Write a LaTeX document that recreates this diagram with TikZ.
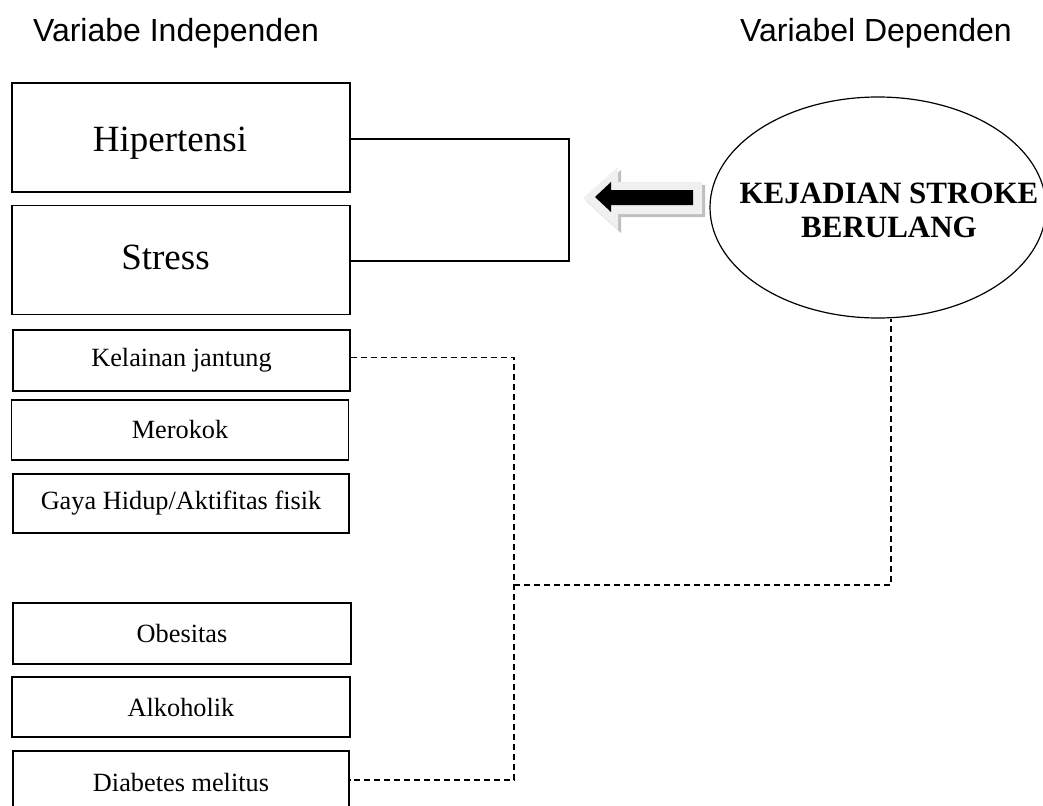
\documentclass[tikz,border=0pt]{standalone}
\usepackage{fontspec}
\setmainfont{Liberation Serif}
\setsansfont{Liberation Sans}
\usetikzlibrary{shapes.geometric}
\begin{document}
\begin{tikzpicture}[x=1pt, y=-1pt, line width=1.2pt,
    bigbox/.style={draw, minimum width=338pt, minimum height=109pt},
    bigtext/.style={inner sep=0pt, text height=24.5pt, text depth=0pt, font=\fontsize{37}{44}\selectfont},
    smallbox/.style={draw, minimum width=337pt, minimum height=60pt, font=\fontsize{26.3}{31}\selectfont},
    heading/.style={inner sep=0pt, text height=23pt, text depth=0pt, font=\sffamily\fontsize{32}{38}\selectfont},
    dashline/.style={dash pattern=on 6pt off 4pt, line width=1.3pt}]
    \useasboundingbox (0,0) rectangle (1043,805);

    \node [heading] (indep) at (176,30) {Variabe Independen};
    \node [heading] (dep) at (876,30) {Variabel Dependen};

    \node [bigbox] (hip) at (181,137.5) {};
    \node [bigtext] (hiptxt) at (170,139.5) {Hipertensi};
    \node [bigbox] (str) at (181,260) {};
    \node [bigtext] (strtxt) at (165.5,257.5) {Stress};

    \node [smallbox, minimum height=61pt] (kel) at (181.5,360.5) {Kelainan jantung};
    \node [smallbox] (mer) at (180,430) {Merokok};
    \node [smallbox, minimum width=336pt, minimum height=59pt] (gay) at (181,503.5) {Gaya Hidup/Aktifitas fisik};
    \node [smallbox, minimum width=338pt, minimum height=61pt] (obe) at (182,633.5) {Obesitas};
    \node [smallbox, minimum width=338pt] (alk) at (181,707) {Alkoholik};
    \node [smallbox, minimum width=336pt, minimum height=62pt] (dia) at (181,782) {Diabetes melitus};

    \node [draw, ellipse, minimum width=336pt, minimum height=221pt, inner sep=0pt] (ell) at (878,207.5) {};
    \node [align=center, font=\bfseries\fontsize{31}{34}\selectfont] (evt) at (889,210) {KEJADIAN STROKE\\BERULANG};

    \coordinate (brk) at (569,0);
    \draw [line width=1.5pt] ([yshift=-1.5pt]hip.east) -- ([yshift=-1.5pt]hip.east -| brk) -- ([yshift=-1pt]str.east -| brk) -- ([yshift=-1pt]str.east);

    \coordinate (dv) at (514,0);
    \coordinate (jn) at (514,585);
    \coordinate (jr) at (891,585);
    \draw [dashline] ([yshift=3pt]kel.east) -- ([yshift=3pt]kel.east -| dv) -- ([yshift=2pt]dia.east -| dv) -- ([yshift=2pt]dia.east);
    \draw [dashline] (jn) -- (jr) -- (jr |- ell.south);

    \fill [gray!50, shift={(3,3)}] (583,198) -- (618,167) -- (618,182) -- (702,182) -- (702,214) -- (618,214) -- (618,230) -- cycle;
    \fill [gray!12] (583,198) -- (618,167) -- (618,182) -- (702,182) -- (702,214) -- (618,214) -- (618,230) -- cycle;
    \fill [black] (595,197) -- (611,182) -- (611,190) -- (693,190) -- (693,205) -- (611,205) -- (611,212) -- cycle;
\end{tikzpicture}
\end{document}
